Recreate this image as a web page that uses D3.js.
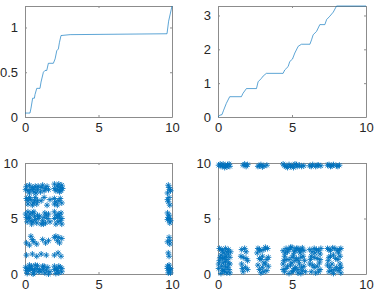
<!DOCTYPE html>
<html>
<head>
<meta charset="utf-8">
<script src="https://cdn.jsdelivr.net/npm/d3@7"></script>
<style>
  body { margin: 0; background: #fff; }
  svg { display: block; }
</style>
</head>
<body>
<svg id="chart" width="374" height="295"></svg>
<script>
// top-left staircase line
const tlX = [0, 0.34, 0.41, 0.52, 0.64, 0.68, 0.80, 1.02, 1.09, 1.25, 1.36, 1.48, 1.59, 1.93, 2.05, 2.16, 2.27, 2.34, 2.45, 3.07, 9.66, 9.77, 10];
const tlY = [0.044, 0.044, 0.10, 0.21, 0.21, 0.25, 0.32, 0.32, 0.39, 0.50, 0.52, 0.52, 0.60, 0.60, 0.65, 0.74, 0.76, 0.83, 0.91, 0.92, 0.93, 1.07, 1.24];

// top-right staircase line
const trX = [0, 0.11, 0.27, 0.38, 0.56, 0.79, 1.58, 1.69, 1.92, 2.60, 2.71, 2.93, 3.05, 3.27, 4.40, 4.51, 4.74, 4.85, 5.03, 5.19, 5.42, 5.64, 6.21, 6.32, 6.43, 6.66, 6.88, 7.22, 7.34, 7.56, 7.79, 8.01, 10];
const trY = [0, 0.05, 0.07, 0.20, 0.40, 0.60, 0.60, 0.70, 0.84, 0.84, 1.04, 1.14, 1.21, 1.29, 1.29, 1.39, 1.49, 1.64, 1.71, 1.89, 2.09, 2.15, 2.15, 2.28, 2.43, 2.53, 2.73, 2.73, 2.88, 2.98, 3.10, 3.28, 3.28];

// bottom-left scatter points [x, y]
const blPoints = [
  [0.1,7.9],[0.3,8.0],[0.5,7.8],[0.7,7.9],[0.2,7.5],[0.6,7.4],[0.85,7.6],[0.05,7.6],
  [0.4,7.6],[0.75,7.3],[0.3,7.3],[0.9,7.9],[0.6,7.65],
  [1.1,7.8],[1.3,7.5],[1.5,7.9],[1.6,7.6],[1.05,7.4],[1.2,8.0],[1.4,7.7],
  [2.0,8.1],[2.2,7.9],[2.4,7.8],[2.1,7.5],[2.35,7.4],[2.55,7.7],[2.0,7.7],
  [2.25,7.6],[2.5,8.0],[2.3,8.1],[2.45,7.5],
  [0.1,6.8],[0.4,6.7],[0.7,6.9],[0.2,6.3],[0.55,6.4],[0.85,6.6],[0.3,6.9],[0.5,6.2],[0.8,6.3],
  [0.2,6.6],[0.65,6.6],
  [1.1,6.6],[1.3,6.9],[1.5,6.2],[1.7,6.7],
  [2.0,6.8],[2.3,6.6],[2.2,6.2],[2.5,6.4],[2.1,6.5],[2.4,6.8],[2.0,6.3],
  [0.05,5.4],[0.3,5.1],[0.5,5.5],[0.7,4.9],[0.15,4.7],[0.45,4.5],[0.85,5.3],[0.25,5.0],[0.65,5.2],
  [0.1,5.1],[0.4,4.8],[0.6,5.6],[0.8,4.6],[0.35,5.4],[0.9,5.0],[0.2,5.6],[0.55,4.7],
  [1.0,5.2],[1.2,4.8],[1.35,5.5],[1.55,5.0],[1.7,4.7],[1.1,4.5],[1.45,5.3],[1.3,5.1],[1.6,5.4],[1.25,4.5],[1.4,4.6],
  [2.0,5.6],[2.2,5.1],[2.4,4.8],[2.1,4.5],[2.3,5.4],[2.5,5.0],[2.1,5.3],[2.45,5.5],[2.25,4.7],[2.0,5.0],[2.5,4.5],[2.35,5.2],
  [0.1,2.8],[0.4,3.4],[0.6,2.9],[0.8,2.7],[0.3,2.6],[0.5,3.1],
  [1.2,3.1],[1.4,2.8],[1.6,3.0],
  [2.0,3.3],[2.2,3.0],[2.35,2.8],[2.5,3.2],[2.1,3.4],[2.3,3.3],
  [0.1,1.7],[0.5,1.8],[0.8,1.6],
  [1.1,1.8],[1.45,1.7],
  [2.0,1.7],[2.25,1.9],[2.45,1.6],
  [0.05,0.6],[0.25,0.3],[0.45,0.7],[0.6,0.1],[0.8,0.5],[0.15,0.05],[0.35,0.5],[0.7,0.8],
  [0.1,0.3],[0.5,0.4],[0.9,0.2],[0.3,0.8],[0.55,0.0],[0.85,0.75],[0.2,0.5],[0.65,0.35],
  [1.0,0.4],[1.2,0.7],[1.35,0.1],[1.55,0.6],[1.7,0.2],[1.1,0.2],[1.45,0.35],[1.25,0.45],[1.6,0.0],[1.3,0.7],
  [2.0,0.7],[2.2,0.3],[2.4,0.6],[2.1,0.05],[2.5,0.2],[2.3,0.7],[2.3,0.1],[2.0,0.4],[2.5,0.5],[2.15,0.5],
  [9.75,8.0],[9.85,7.6],[9.7,7.3],[9.8,6.9],[9.75,6.5],[9.85,6.2],[9.8,5.3],[9.7,4.9],[9.85,4.6],[9.75,5.1],
  [9.8,7.8],[9.9,7.5],[9.7,6.7],[9.8,5.0],[9.9,4.8],[9.7,5.5],
  [9.8,3.3],[9.7,2.9],[9.85,2.7],[9.85,3.0],[9.75,1.9],[9.8,1.6],
  [9.7,0.7],[9.85,0.4],[9.75,0.1],[9.9,0.5],[9.8,0.3],[9.7,0.5],[9.9,0.1],[9.8,0.8]
];

// bottom-right scatter points [x, y]
const brPoints = [
  [0.05,9.8],[0.2,9.7],[0.35,9.9],[0.5,9.75],[0.65,9.85],[0.8,9.7],[0.15,9.9],[0.45,9.6],[0.3,9.75],[0.6,9.65],[0.75,9.9],
  [1.7,9.8],[1.9,9.7],[2.0,9.85],[1.8,9.9],
  [2.7,9.7],[2.9,9.85],[3.1,9.75],[3.3,9.8],[2.8,9.75],[3.0,9.65],
  [4.4,9.9],[4.6,9.7],[4.8,9.85],[5.0,9.75],[5.2,9.9],[5.35,9.7],[5.5,9.8],[5.8,9.75],[4.7,9.6],[5.1,9.6],
  [4.5,9.75],[4.9,9.7],[5.3,9.85],[5.65,9.7],
  [6.2,9.75],[6.4,9.85],[6.6,9.7],[6.8,9.8],[6.95,9.75],[6.3,9.7],[6.7,9.8],
  [7.4,9.8],[7.6,9.7],[7.8,9.85],[8.0,9.75],[8.2,9.8],[7.5,9.85],[7.7,9.75],[8.1,9.7],
  [0.1,2.3],[0.3,2.1],[0.5,2.3],[0.7,2.2],[0.85,2.0],[0.2,1.7],[0.45,1.5],[0.7,1.8],[0.1,1.2],[0.35,1.0],
  [0.6,1.3],[0.8,0.9],[0.05,0.5],[0.3,0.3],[0.5,0.7],[0.75,0.4],[0.2,0.05],[0.6,0.1],[0.4,1.9],
  [0.2,2.2],[0.6,2.0],[0.3,1.4],[0.55,1.6],[0.8,1.5],[0.25,0.7],[0.65,0.6],[0.4,0.4],[0.8,0.1],[0.05,0.9],[0.5,1.1],
  [0.15,1.5],[0.7,1.0],[0.45,0.2],
  [1.6,2.2],[1.9,2.0],[1.7,1.5],[2.0,1.2],[1.6,0.9],[1.85,0.6],[1.7,0.2],[2.0,0.4],[1.8,2.3],[1.9,1.4],[1.65,0.5],[1.55,1.6],
  [2.7,2.3],[2.9,2.1],[3.1,2.2],[3.35,2.3],[2.8,1.4],[3.0,1.6],[3.3,1.3],[2.7,0.8],[3.0,0.6],[3.2,0.9],[2.9,0.1],[3.3,0.3],
  [2.8,2.2],[3.2,2.4],[2.9,1.3],[3.4,1.5],[2.8,0.4],[3.1,0.2],[3.4,0.7],[2.65,1.9],[3.1,1.0],
  [4.4,2.1],[4.6,2.3],[4.8,2.2],[5.0,2.4],[5.2,2.1],[5.4,2.3],[5.6,2.2],[5.8,2.1],[4.5,1.6],[4.8,1.3],[5.1,1.7],[5.3,1.4],
  [5.6,1.5],[4.4,0.9],[4.7,0.7],[5.0,1.0],[5.25,0.6],[5.5,0.9],[5.8,0.7],[4.5,0.2],[4.8,0.05],[5.1,0.3],[5.4,0.1],[5.7,0.3],
  [4.7,2.0],[4.9,2.4],[5.3,2.3],[5.5,2.1],[5.7,2.35],[4.6,1.3],[5.0,1.5],[5.45,1.2],[5.75,1.6],[4.6,0.5],[4.9,0.8],
  [5.15,0.5],[5.4,0.4],[5.65,0.6],[5.9,0.2],[4.4,0.4],
  [4.55,1.9],[5.15,2.0],[5.55,1.9],[4.45,1.2],[5.2,1.2],[5.85,1.2],[5.0,0.2],[5.6,0.05],
  [6.2,2.2],[6.5,2.3],[6.8,2.1],[6.3,1.6],[6.7,1.4],[6.9,1.8],[6.2,0.9],[6.5,0.6],[6.85,1.0],[6.3,0.2],[6.6,0.1],[6.9,0.4],
  [6.35,2.0],[6.65,2.2],[6.95,2.3],[6.5,1.5],[6.4,0.8],[6.7,0.7],[6.8,0.2],[6.25,1.3],[6.9,1.3],[6.55,1.9],
  [7.4,2.3],[7.6,2.1],[7.9,2.3],[8.2,2.2],[7.5,1.5],[7.8,1.7],[8.1,1.3],[7.4,0.8],[7.7,0.9],[8.0,0.6],[8.25,0.9],[7.5,0.2],[7.8,0.05],[8.1,0.3],
  [7.5,2.2],[7.75,2.35],[8.05,2.1],[8.3,2.3],[7.6,1.6],[7.95,1.4],[8.25,1.6],[7.55,0.6],[7.85,0.4],[8.2,0.5],[8.3,0.1],
  [7.45,1.2],[8.15,1.9],[7.65,0.3],[8.3,0.6]
];

const xTicks = [0, 5, 10];
const tlTicks = [0, 0.5, 1];
const trTicks = [0, 1, 2, 3];
const bTicks = [0, 5, 10];

const blue = "#0072BD";
const svg = d3.select("#chart");

// panel boxes in pixels
const panels = [
  { left: 25, right: 172, top: 6, bottom: 117, ymax: 1.24, yTicks: tlTicks },
  { left: 218, right: 366, top: 6, bottom: 117, ymax: 3.28, yTicks: trTicks },
  { left: 25, right: 172, top: 163, bottom: 274, ymax: 10, yTicks: bTicks },
  { left: 218, right: 366, top: 163, bottom: 274, ymax: 10, yTicks: bTicks }
];

const fmt = d => String(d);

function makeAxes(p) {
  const x = d3.scaleLinear().domain([0, 10]).range([p.left, p.right]);
  const y = d3.scaleLinear().domain([0, p.ymax]).range([p.bottom, p.top]);
  const g = svg.append("g");

  const style = sel => {
    sel.select(".domain").attr("stroke", "#8c8c8c").attr("stroke-width", 1);
    sel.selectAll(".tick line").attr("stroke", "#8c8c8c").attr("stroke-width", 1);
    sel.selectAll("text").attr("fill", "#262626")
      .attr("font-family", "Liberation Sans, Arial, sans-serif").attr("font-size", 13);
  };

  g.append("g").attr("transform", `translate(0,${p.bottom})`)
    .call(d3.axisBottom(x).tickValues(xTicks).tickFormat(fmt).tickSizeInner(-2).tickSizeOuter(0).tickPadding(6))
    .call(style);
  g.append("g").attr("transform", `translate(0,${p.top})`)
    .call(d3.axisTop(x).tickValues(xTicks).tickFormat("").tickSizeInner(-2).tickSizeOuter(0))
    .call(style);
  g.append("g").attr("transform", `translate(${p.left},0)`)
    .call(d3.axisLeft(y).tickValues(p.yTicks).tickFormat(fmt).tickSizeInner(-2).tickSizeOuter(0).tickPadding(7))
    .call(style);
  g.append("g").attr("transform", `translate(${p.right},0)`)
    .call(d3.axisRight(y).tickValues(p.yTicks).tickFormat("").tickSizeInner(-2).tickSizeOuter(0))
    .call(style);

  return { x, y, g };
}

// line panels
[[panels[0], tlX, tlY], [panels[1], trX, trY]].forEach(([p, xs, ys]) => {
  const { x, y, g } = makeAxes(p);
  const line = d3.line().x(d => x(d[0])).y(d => y(d[1]));
  g.append("path")
    .datum(xs.map((v, i) => [v, ys[i]]))
    .attr("fill", "none")
    .attr("stroke", blue)
    .attr("stroke-opacity", 0.8)
    .attr("stroke-width", 0.8)
    .attr("d", line);
});

// asterisk marker
const star = (r) => {
  const d = r * 0.707;
  return `M${-r},0L${r},0M0,${-r}L0,${r}M${-d},${-d}L${d},${d}M${-d},${d}L${d},${-d}`;
};

[[panels[2], blPoints], [panels[3], brPoints]].forEach(([p, pts]) => {
  const { x, y, g } = makeAxes(p);
  g.append("g").selectAll("path")
    .data(pts)
    .join("path")
    .attr("transform", d => `translate(${x(d[0])},${y(d[1])})`)
    .attr("d", star(3))
    .attr("fill", "none")
    .attr("stroke", blue)
    .attr("stroke-width", 0.9);
});
</script>
</body>
</html>
